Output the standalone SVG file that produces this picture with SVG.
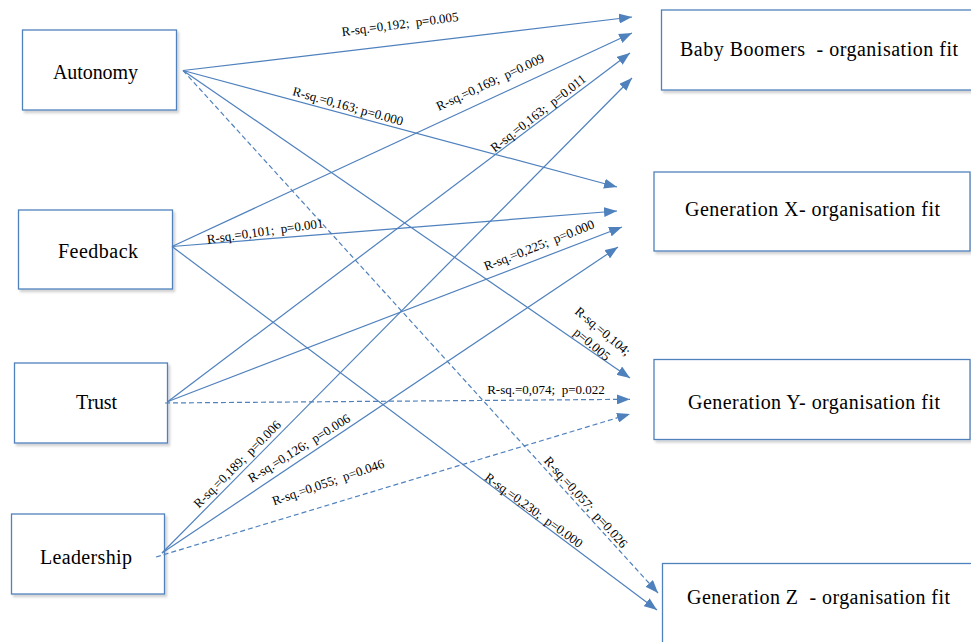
<svg xmlns="http://www.w3.org/2000/svg" width="971" height="642" viewBox="0 0 971 642">
<defs>
<marker id="ah" markerUnits="userSpaceOnUse" markerWidth="14" markerHeight="10" refX="13" refY="5" orient="auto"><path d="M0,0 L13,5 L0,10 z" fill="#4F81BD"/></marker>
<filter id="sh" x="-5%" y="-5%" width="115%" height="125%"><feDropShadow dx="2" dy="2.5" stdDeviation="1.2" flood-color="#000" flood-opacity="0.18"/></filter>
</defs>
<style>
.box{fill:#fff;stroke:#4F81BD;stroke-width:1.3;filter:url(#sh)}
.nt{font-family:'Liberation Serif','Times New Roman',serif;font-size:20px;fill:#000}
.c{stroke:#4F81BD;stroke-width:1.2;fill:none;marker-end:url(#ah)}
.d{stroke-dasharray:5,3}
.lb{font-family:'Liberation Serif','Times New Roman',serif;font-size:13px;fill:#000;text-anchor:middle;white-space:pre}
</style>
<rect width="971" height="642" fill="#fff"/>
<g id="autonomy"><rect class="box" x="22.5" y="30" width="154" height="80"/><text class="nt" x="53" y="78.5" textLength="85" lengthAdjust="spacing">Autonomy</text></g>
<g id="feedback"><rect class="box" x="18.5" y="210" width="154" height="79"/><text class="nt" x="58" y="258" textLength="80" lengthAdjust="spacing">Feedback</text></g>
<g id="trust"><rect class="box" x="14.5" y="363" width="153" height="80"/><text class="nt" x="76" y="408.5" textLength="41" lengthAdjust="spacing">Trust</text></g>
<g id="leadership"><rect class="box" x="11.5" y="514" width="153" height="80"/><text class="nt" x="40" y="564" textLength="92" lengthAdjust="spacing">Leadership</text></g>
<g id="babyboomers"><rect class="box" x="661.5" y="10" width="315" height="80"/><text class="nt" x="680" y="56" textLength="278" lengthAdjust="spacing" style="white-space:pre">Baby Boomers  - organisation fit</text></g>
<g id="genx"><rect class="box" x="654" y="172" width="316" height="79"/><text class="nt" x="685" y="216" textLength="255" lengthAdjust="spacing">Generation X- organisation fit</text></g>
<g id="geny"><rect class="box" x="654" y="359.5" width="316" height="80"/><text class="nt" x="688" y="408.5" textLength="252" lengthAdjust="spacing">Generation Y- organisation fit</text></g>
<g id="genz"><rect class="box" x="662.5" y="563.5" width="315" height="90"/><text class="nt" x="687" y="603.5" textLength="263" lengthAdjust="spacing" style="white-space:pre">Generation Z  - organisation fit</text></g>
<g id="connectors">
<line class="c" x1="183" y1="70.5" x2="632" y2="17"/>
<line class="c" x1="183" y1="70.5" x2="617" y2="187"/>
<line class="c" x1="183" y1="70.5" x2="630" y2="378"/>
<line class="c d" x1="183" y1="70.5" x2="658" y2="593"/>
<line class="c" x1="172" y1="246.5" x2="632" y2="33"/>
<line class="c" x1="172" y1="246.5" x2="617" y2="211"/>
<line class="c" x1="172" y1="246.5" x2="657" y2="610"/>
<line class="c" x1="168" y1="401.5" x2="630" y2="53"/>
<line class="c" x1="168" y1="401.5" x2="622" y2="227"/>
<line class="c d" x1="165" y1="403" x2="630" y2="399.3"/>
<line class="c" x1="162" y1="553" x2="632" y2="78"/>
<line class="c" x1="162" y1="553" x2="618" y2="247"/>
<line class="c d" x1="156" y1="557" x2="630" y2="414"/>
</g>
<g id="labels">
<text class="lb" transform="translate(400,24) rotate(-7.5)" dy="0.35em">R-sq.=0,192;  p=0.005</text>
<text class="lb" transform="translate(348,106) rotate(15.5)" dy="0.35em">R-sq.=0,163; p=0.000</text>
<text class="lb" transform="translate(490,82) rotate(-25)" dy="0.35em">R-sq.=0,169;  p=0.009</text>
<text class="lb" transform="translate(538,113) rotate(-38)" dy="0.35em">R-sq.=0,163;  p=0.011</text>
<text class="lb" transform="translate(265,231) rotate(-8)" dy="0.35em">R-sq.=0,101;  p=0.001</text>
<text class="lb" transform="translate(539,245) rotate(-21.5)" dy="0.35em">R-sq.=0,225;  p=0.000</text>
<text class="lb" transform="translate(603,331) rotate(40)"><tspan x="0" dy="0.35em">R-sq.=0,104;</tspan><tspan x="0" dy="17">p=0.005</tspan></text>
<text class="lb" transform="translate(546,389)" dy="0.35em">R-sq.=0,074;  p=0.022</text>
<text class="lb" transform="translate(237,464) rotate(-45)" dy="0.35em">R-sq.=0,189;  p=0.006</text>
<text class="lb" transform="translate(299,448) rotate(-32)" dy="0.35em">R-sq.=0,126;  p=0.006</text>
<text class="lb" transform="translate(328,482) rotate(-19)" dy="0.35em">R-sq.=0,055;  p=0.046</text>
<text class="lb" transform="translate(586,502) rotate(48)" dy="0.35em">R-sq.=0,057;  p=0.026</text>
<text class="lb" transform="translate(534,510) rotate(36)" dy="0.35em">R-sq.=0,230;  p=0.000</text>
</g>
</svg>
